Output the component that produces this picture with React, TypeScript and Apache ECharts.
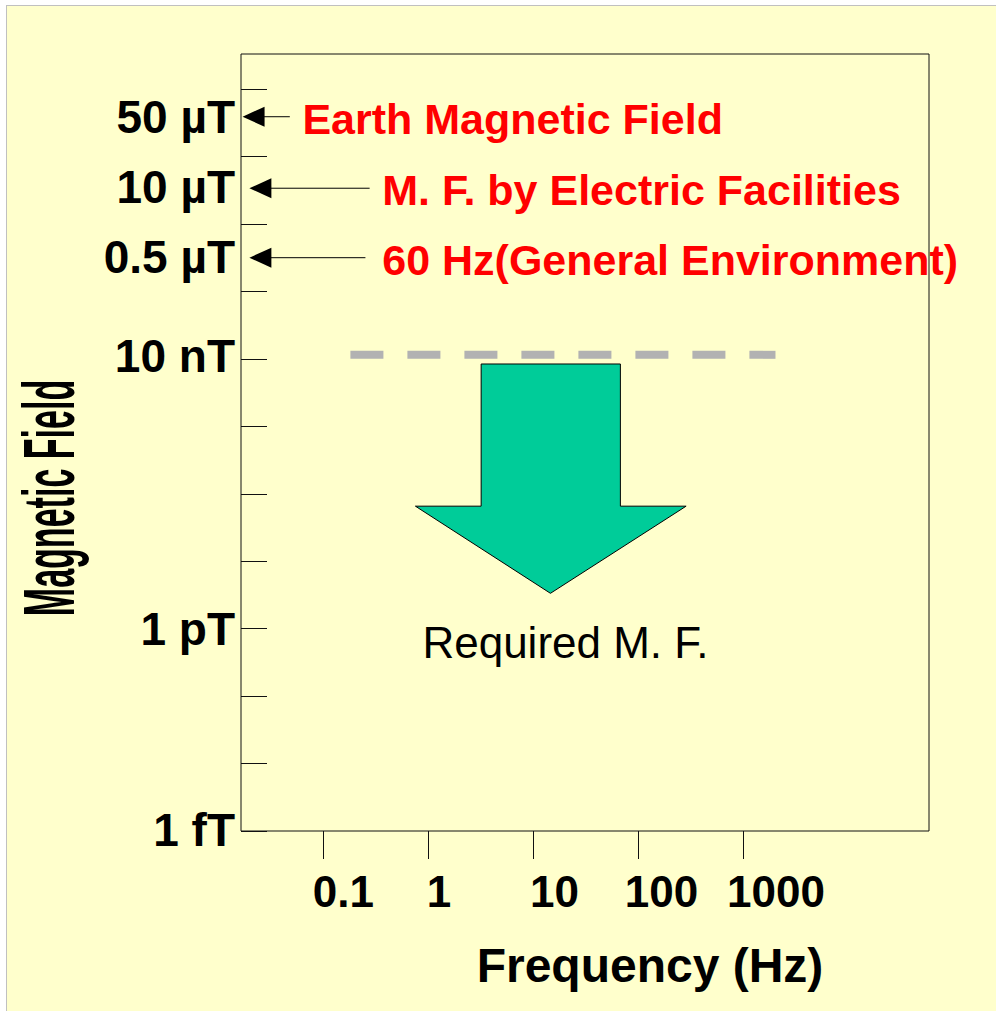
import React, { useEffect, useRef } from "react";
import * as echarts from "echarts";

// ---- data (axis units: x = log10(Hz), y = log10(Tesla)) ----
const xTickValues = [-1, 0, 1, 2, 3];
const xLabelValues = [-0.81, 0.1, 1.2, 2.22, 3.31];
const xLabelTexts = ["0.1", "1", "10", "100", "1000"];

const yTickValues = [-15, -14, -13, -12, -11, -10, -9, -8, -7, -6, -5, -4];
const yLabelValues = [-4.41, -5.45, -6.49, -7.96, -12, -14.98];
const yLabelTexts = ["50 µT", "10 µT", "0.5 µT", "10 nT", "1 pT", "1 fT"];

const annotTexts = [
  "Earth Magnetic Field",
  "M. F. by Electric Facilities",
  "60 Hz(General Environment)",
];
const annotLevels = [-4.41, -5.47, -6.5];
const annotArrowFrom = [-1.32, -0.56, -0.6];
const annotArrowTip = [-1.77, -1.705, -1.705];
const annotTextX = [-1.2, -0.44, -0.44];

const refLevel = -7.94;
const refFrom = -0.743;
const refTo = 3.305;

const bigArrowX = [0.502, 1.828, 1.828, 2.454, 1.162, -0.124, 0.502];
const bigArrowY = [-8.076, -8.076, -10.184, -10.184, -11.476, -10.184, -10.184];

const requiredText = "Required M. F.";
const requiredX = 1.305;
const requiredY = -12.2;

const xMin = -1.785;
const xMax = 4.767;
const yMin = -15;
const yMax = -3.48;

const FONT = "'Liberation Sans', Arial, Helvetica, sans-serif";

function findText(values: number[], texts: string[], v: number): string {
  for (let i = 0; i < values.length; i++) {
    if (Math.abs(values[i] - v) < 1e-6) return texts[i];
  }
  return "";
}

export default function App() {
  const ref = useRef<HTMLDivElement>(null);

  useEffect(() => {
    if (!ref.current) return;
    const chart = echarts.init(ref.current, undefined, { renderer: "svg" });

    const annotData = annotLevels.map((lv, i) => [
      annotArrowFrom[i],
      lv,
      annotArrowTip[i],
      annotTextX[i],
    ]);

    const option: any = {
      animation: false,
      backgroundColor: "transparent",
      textStyle: { fontFamily: FONT },
      grid: {
        left: 241,
        top: 54,
        width: 688,
        height: 777,
        show: true,
        borderColor: "#111",
        borderWidth: 1,
        backgroundColor: "transparent",
        containLabel: false,
      },
      xAxis: {
        type: "value",
        min: xMin,
        max: xMax,
        axisLine: { show: false, onZero: false },
        splitLine: { show: false },
        axisTick: {
          show: true,
          inside: false,
          length: 28,
          customValues: xTickValues,
          lineStyle: { color: "#111", width: 1 },
        },
        axisLabel: {
          show: true,
          customValues: xLabelValues,
          margin: 38,
          color: "#000",
          fontFamily: FONT,
          fontWeight: "bold",
          fontSize: 44,
          formatter: (v: number) => findText(xLabelValues, xLabelTexts, v),
        },
      },
      yAxis: {
        type: "value",
        min: yMin,
        max: yMax,
        axisLine: { show: false, onZero: false },
        splitLine: { show: false },
        axisTick: {
          show: true,
          inside: true,
          length: 26,
          customValues: yTickValues,
          lineStyle: { color: "#111", width: 1 },
        },
        axisLabel: {
          show: true,
          customValues: yLabelValues,
          margin: 6,
          color: "#000",
          fontFamily: FONT,
          fontWeight: "bold",
          fontSize: 46,
          formatter: (v: number) => findText(yLabelValues, yLabelTexts, v),
        },
      },
      graphic: [
        {
          type: "text",
          x: 49,
          y: 498,
          rotation: Math.PI / 2,
          scaleX: 0.473,
          scaleY: 1,
          style: {
            text: "Magnetic Field",
            fill: "#000",
            font: `bold 72px ${FONT}`,
            textAlign: "center",
            textVerticalAlign: "middle",
          },
        },
        {
          type: "text",
          x: 650,
          y: 965,
          style: {
            text: "Frequency (Hz)",
            fill: "#000",
            font: `bold 48px ${FONT}`,
            textAlign: "center",
            textVerticalAlign: "middle",
          },
        },
      ],
      series: [
        {
          type: "line",
          data: [
            [refFrom, refLevel],
            [refTo, refLevel],
          ],
          symbol: "none",
          silent: true,
          lineStyle: { color: "#B2B2B2", width: 8, type: [33, 24], cap: "butt" },
        },
        {
          type: "custom",
          silent: true,
          clip: false,
          data: [[requiredX, requiredY]],
          renderItem: (params: any, api: any) => {
            const pts = bigArrowX.map((x, i) => api.coord([x, bigArrowY[i]]));
            const lp = api.coord([api.value(0), api.value(1)]);
            return {
              type: "group",
              children: [
                {
                  type: "polygon",
                  shape: { points: pts },
                  style: { fill: "#00CC99", stroke: "#000", lineWidth: 1 },
                },
                {
                  type: "text",
                  x: lp[0],
                  y: lp[1],
                  style: {
                    text: requiredText,
                    fill: "#000",
                    font: `normal 44px ${FONT}`,
                    textAlign: "center",
                    textVerticalAlign: "middle",
                  },
                },
              ],
            };
          },
        },
        {
          type: "custom",
          silent: true,
          clip: false,
          data: annotData,
          renderItem: (params: any, api: any) => {
            const from = api.coord([api.value(0), api.value(1)]);
            const tip = api.coord([api.value(2), api.value(1)]);
            const tx = api.coord([api.value(3), api.value(1)]);
            const y = from[1];
            const headLen = 22;
            const half = 10;
            return {
              type: "group",
              children: [
                {
                  type: "line",
                  shape: { x1: from[0], y1: y, x2: tip[0] + headLen - 1, y2: y },
                  style: { stroke: "#000", lineWidth: 1 },
                },
                {
                  type: "polygon",
                  shape: {
                    points: [
                      [tip[0], y],
                      [tip[0] + headLen, y - half],
                      [tip[0] + headLen, y + half],
                    ],
                  },
                  style: { fill: "#000" },
                },
                {
                  type: "text",
                  x: tx[0],
                  y: y + 2,
                  style: {
                    text: annotTexts[params.dataIndex],
                    fill: "#FF0000",
                    font: `bold 43px ${FONT}`,
                    textAlign: "left",
                    textVerticalAlign: "middle",
                  },
                },
              ],
            };
          },
        },
      ],
    };

    chart.setOption(option);
    return () => chart.dispose();
  }, []);

  return (
    <div
      style={{
        position: "fixed",
        left: 0,
        top: 0,
        width: 996,
        height: 1011,
        background: "#FFFFFF",
        overflow: "hidden",
      }}
    >
      <div
        style={{
          position: "absolute",
          left: 6,
          top: 5,
          width: 1000,
          height: 1020,
          background: "#FFFFCC",
          borderLeft: "1px solid #C0C0C0",
          borderTop: "1px solid #C0C0C0",
        }}
      />
      <div
        ref={ref}
        style={{ position: "absolute", left: 0, top: 0, width: 996, height: 1011 }}
      />
    </div>
  );
}
